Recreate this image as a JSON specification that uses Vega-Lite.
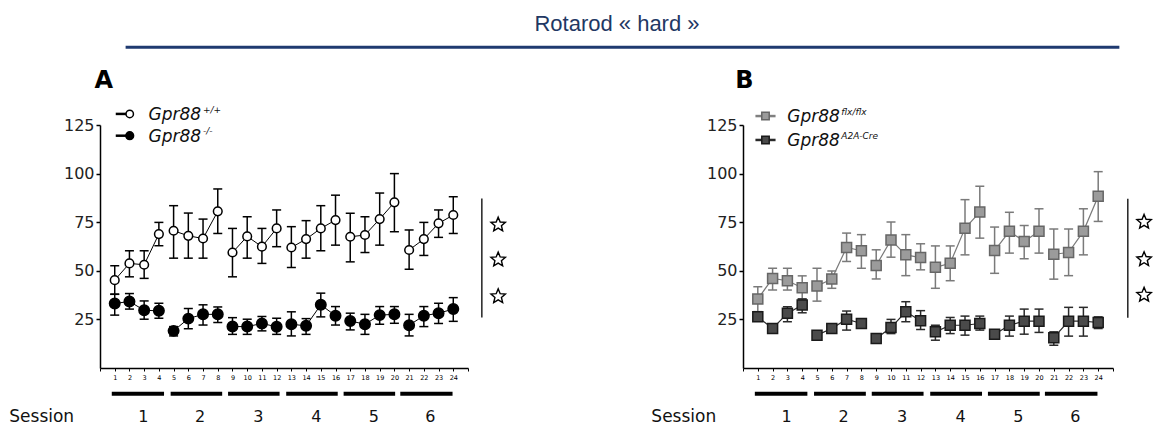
{
  "$schema": "https://vega.github.io/schema/vega-lite/v6.json",
  "padding": {"left": 9, "top": 13, "right": 2, "bottom": 2},
  "bounds": "flush",
  "spacing": 275,
  "resolve": {"scale": {"fill": "independent", "stroke": "independent", "size": "independent", "color": "independent"}},
  "config": {
    "view": {"stroke": null},
    "text": {"font": "DejaVu Sans"},
    "axis": {"labelFont": "DejaVu Sans", "grid": false}
  },
  "datasets": {
    "A": [
      {"group":"WT","trial":1,"session":1,"mean":45.2,"lo":38.0,"hi":52.6},
      {"group":"WT","trial":2,"session":1,"mean":53.8,"lo":46.9,"hi":60.3},
      {"group":"WT","trial":3,"session":1,"mean":53.1,"lo":46.1,"hi":60.3},
      {"group":"WT","trial":4,"session":1,"mean":68.9,"lo":62.9,"hi":74.9},
      {"group":"WT","trial":5,"session":2,"mean":70.6,"lo":56.5,"hi":83.5},
      {"group":"WT","trial":6,"session":2,"mean":68.0,"lo":56.5,"hi":79.7},
      {"group":"WT","trial":7,"session":2,"mean":66.6,"lo":56.5,"hi":76.6},
      {"group":"WT","trial":8,"session":2,"mean":80.6,"lo":69.2,"hi":92.1},
      {"group":"WT","trial":9,"session":3,"mean":59.4,"lo":46.9,"hi":71.8},
      {"group":"WT","trial":10,"session":3,"mean":67.7,"lo":56.5,"hi":77.8},
      {"group":"WT","trial":11,"session":3,"mean":62.4,"lo":53.8,"hi":71.8},
      {"group":"WT","trial":12,"session":3,"mean":71.8,"lo":62.4,"hi":81.3},
      {"group":"WT","trial":13,"session":4,"mean":62.0,"lo":51.7,"hi":72.7},
      {"group":"WT","trial":14,"session":4,"mean":66.3,"lo":56.5,"hi":75.8},
      {"group":"WT","trial":15,"session":4,"mean":71.8,"lo":60.3,"hi":83.5},
      {"group":"WT","trial":16,"session":4,"mean":76.1,"lo":63.2,"hi":88.9},
      {"group":"WT","trial":17,"session":5,"mean":67.5,"lo":54.6,"hi":79.6},
      {"group":"WT","trial":18,"session":5,"mean":68.4,"lo":59.4,"hi":77.8},
      {"group":"WT","trial":19,"session":5,"mean":76.6,"lo":63.2,"hi":90.0},
      {"group":"WT","trial":20,"session":5,"mean":85.2,"lo":70.1,"hi":100.0},
      {"group":"WT","trial":21,"session":6,"mean":60.7,"lo":50.8,"hi":71.0},
      {"group":"WT","trial":22,"session":6,"mean":66.3,"lo":57.9,"hi":74.9},
      {"group":"WT","trial":23,"session":6,"mean":74.4,"lo":67.2,"hi":81.3},
      {"group":"WT","trial":24,"session":6,"mean":78.7,"lo":69.2,"hi":88.1},
      {"group":"KO","trial":1,"session":1,"mean":33.2,"lo":27.2,"hi":37.9},
      {"group":"KO","trial":2,"session":1,"mean":34.2,"lo":30.3,"hi":38.3},
      {"group":"KO","trial":3,"session":1,"mean":29.7,"lo":25.1,"hi":34.5},
      {"group":"KO","trial":4,"session":1,"mean":29.4,"lo":25.6,"hi":33.3},
      {"group":"KO","trial":5,"session":2,"mean":19.1,"lo":16.5,"hi":21.3},
      {"group":"KO","trial":6,"session":2,"mean":25.4,"lo":20.2,"hi":30.6},
      {"group":"KO","trial":7,"session":2,"mean":27.6,"lo":22.1,"hi":32.5},
      {"group":"KO","trial":8,"session":2,"mean":27.6,"lo":23.4,"hi":31.4},
      {"group":"KO","trial":9,"session":3,"mean":21.3,"lo":17.3,"hi":25.9},
      {"group":"KO","trial":10,"session":3,"mean":21.3,"lo":17.3,"hi":25.1},
      {"group":"KO","trial":11,"session":3,"mean":22.9,"lo":19.1,"hi":26.5},
      {"group":"KO","trial":12,"session":3,"mean":21.2,"lo":17.3,"hi":25.6},
      {"group":"KO","trial":13,"session":4,"mean":22.5,"lo":16.5,"hi":28.9},
      {"group":"KO","trial":14,"session":4,"mean":21.7,"lo":17.3,"hi":25.4},
      {"group":"KO","trial":15,"session":4,"mean":32.5,"lo":26.3,"hi":38.5},
      {"group":"KO","trial":16,"session":4,"mean":26.9,"lo":22.1,"hi":31.6},
      {"group":"KO","trial":17,"session":5,"mean":24.2,"lo":19.6,"hi":28.2},
      {"group":"KO","trial":18,"session":5,"mean":22.5,"lo":17.3,"hi":27.6},
      {"group":"KO","trial":19,"session":5,"mean":27.2,"lo":22.5,"hi":31.6},
      {"group":"KO","trial":20,"session":5,"mean":27.6,"lo":23.0,"hi":31.6},
      {"group":"KO","trial":21,"session":6,"mean":22.0,"lo":16.5,"hi":27.6},
      {"group":"KO","trial":22,"session":6,"mean":26.9,"lo":21.3,"hi":31.6},
      {"group":"KO","trial":23,"session":6,"mean":28.2,"lo":22.9,"hi":33.3},
      {"group":"KO","trial":24,"session":6,"mean":30.3,"lo":24.0,"hi":36.2}
    ],
    "B": [
      {"group":"flox","trial":1,"session":1,"mean":35.5,"lo":29.0,"hi":41.8},
      {"group":"flox","trial":2,"session":1,"mean":46.1,"lo":40.1,"hi":51.3},
      {"group":"flox","trial":3,"session":1,"mean":44.9,"lo":40.1,"hi":51.3},
      {"group":"flox","trial":4,"session":1,"mean":41.3,"lo":35.5,"hi":47.4},
      {"group":"flox","trial":5,"session":2,"mean":42.2,"lo":34.4,"hi":51.3},
      {"group":"flox","trial":6,"session":2,"mean":45.8,"lo":41.0,"hi":49.9},
      {"group":"flox","trial":7,"session":2,"mean":62.0,"lo":54.8,"hi":69.4},
      {"group":"flox","trial":8,"session":2,"mean":60.3,"lo":51.3,"hi":68.6},
      {"group":"flox","trial":9,"session":3,"mean":52.7,"lo":45.8,"hi":60.8},
      {"group":"flox","trial":10,"session":3,"mean":65.9,"lo":57.0,"hi":75.1},
      {"group":"flox","trial":11,"session":3,"mean":58.2,"lo":47.5,"hi":68.6},
      {"group":"flox","trial":12,"session":3,"mean":56.8,"lo":50.5,"hi":63.9},
      {"group":"flox","trial":13,"session":4,"mean":51.8,"lo":41.0,"hi":62.8},
      {"group":"flox","trial":14,"session":4,"mean":53.9,"lo":44.9,"hi":62.8},
      {"group":"flox","trial":15,"session":4,"mean":71.9,"lo":58.2,"hi":86.6},
      {"group":"flox","trial":16,"session":4,"mean":80.2,"lo":66.8,"hi":93.5},
      {"group":"flox","trial":17,"session":5,"mean":60.4,"lo":48.7,"hi":72.5},
      {"group":"flox","trial":18,"session":5,"mean":70.3,"lo":59.1,"hi":80.1},
      {"group":"flox","trial":19,"session":5,"mean":65.1,"lo":56.2,"hi":73.3},
      {"group":"flox","trial":20,"session":5,"mean":70.3,"lo":59.1,"hi":81.9},
      {"group":"flox","trial":21,"session":6,"mean":58.5,"lo":45.7,"hi":71.5},
      {"group":"flox","trial":22,"session":6,"mean":59.4,"lo":47.5,"hi":71.5},
      {"group":"flox","trial":23,"session":6,"mean":70.3,"lo":58.2,"hi":81.9},
      {"group":"flox","trial":24,"session":6,"mean":88.4,"lo":75.4,"hi":101.0},
      {"group":"A2A","trial":1,"session":1,"mean":26.3,"lo":24.5,"hi":28.0},
      {"group":"A2A","trial":2,"session":1,"mean":20.3,"lo":19.0,"hi":21.6},
      {"group":"A2A","trial":3,"session":1,"mean":28.1,"lo":23.8,"hi":31.5},
      {"group":"A2A","trial":4,"session":1,"mean":32.4,"lo":28.4,"hi":35.5},
      {"group":"A2A","trial":5,"session":2,"mean":16.9,"lo":15.5,"hi":18.3},
      {"group":"A2A","trial":6,"session":2,"mean":20.3,"lo":18.5,"hi":22.3},
      {"group":"A2A","trial":7,"session":2,"mean":25.1,"lo":19.5,"hi":29.3},
      {"group":"A2A","trial":8,"session":2,"mean":22.9,"lo":21.0,"hi":25.0},
      {"group":"A2A","trial":9,"session":3,"mean":15.2,"lo":13.8,"hi":16.6},
      {"group":"A2A","trial":10,"session":3,"mean":20.8,"lo":17.7,"hi":25.0},
      {"group":"A2A","trial":11,"session":3,"mean":28.9,"lo":23.8,"hi":34.1},
      {"group":"A2A","trial":12,"session":3,"mean":24.3,"lo":19.8,"hi":29.5},
      {"group":"A2A","trial":13,"session":4,"mean":18.6,"lo":14.3,"hi":22.0},
      {"group":"A2A","trial":14,"session":4,"mean":22.0,"lo":17.7,"hi":26.0},
      {"group":"A2A","trial":15,"session":4,"mean":22.0,"lo":16.9,"hi":26.7},
      {"group":"A2A","trial":16,"session":4,"mean":22.9,"lo":19.5,"hi":26.7},
      {"group":"A2A","trial":17,"session":5,"mean":17.4,"lo":16.0,"hi":18.8},
      {"group":"A2A","trial":18,"session":5,"mean":22.0,"lo":16.4,"hi":26.7},
      {"group":"A2A","trial":19,"session":5,"mean":24.1,"lo":17.4,"hi":30.3},
      {"group":"A2A","trial":20,"session":5,"mean":24.1,"lo":18.3,"hi":30.3},
      {"group":"A2A","trial":21,"session":6,"mean":15.6,"lo":11.7,"hi":18.6},
      {"group":"A2A","trial":22,"session":6,"mean":24.1,"lo":16.4,"hi":31.2},
      {"group":"A2A","trial":23,"session":6,"mean":24.1,"lo":16.4,"hi":31.2},
      {"group":"A2A","trial":24,"session":6,"mean":23.4,"lo":20.3,"hi":26.3}
    ],
    "sessions": [
      {"session":"1","from":0.8,"to":4.35,"mid":2.95},
      {"session":"2","from":4.8,"to":8.3,"mid":6.8},
      {"session":"3","from":8.7,"to":12.2,"mid":10.75},
      {"session":"4","from":12.65,"to":16.15,"mid":14.7},
      {"session":"5","from":16.55,"to":20.05,"mid":18.6},
      {"session":"6","from":20.4,"to":23.95,"mid":22.45}
    ]
  },
  "hconcat": [
    {
      "width": 368,
      "height": 243,
      "layer": [
        {
          "data": {"name": "A"},
          "mark": {"type": "rule", "color": "#000", "strokeWidth": 1.5},
          "encoding": {
            "x": {"field": "trial", "type": "quantitative", "scale": {"domain": [0, 25], "nice": false, "zero": false}, "title": null,
              "axis": {"title": null, "values": [0,1,2,3,4,5,6,7,8,9,10,11,12,13,14,15,16,17,18,19,20,21,22,23,24,25], "tickCount": 40, "format": "d",
                "labelExpr": "datum.value >= 1 && datum.value <= 24 ? datum.label : ''",
                "labelFontSize": 6.5, "labelColor": "#000", "labelPadding": 3, "labelFlush": false, "labelOverlap": false,
                "tickSize": 3, "tickColor": "#000", "tickWidth": 1, "domainColor": "#000", "domainWidth": 1.5}},
            "y": {"field": "lo", "type": "quantitative", "scale": {"domain": [0, 125], "nice": false}, "title": null,
              "axis": {"title": null, "values": [25, 50, 75, 100, 125], "tickCount": 10, "format": "d", "labelFontSize": 16, "labelColor": "#222",
                "labelPadding": 2, "tickSize": 4, "tickColor": "#000", "tickWidth": 1.5, "domainColor": "#000", "domainWidth": 1.5}},
            "y2": {"field": "hi"}
          }
        },
        {
          "data": {"name": "A"},
          "mark": {"type": "tick", "orient": "horizontal", "size": 9, "thickness": 1.5, "color": "#000", "opacity": 1},
          "encoding": {
            "x": {"field": "trial", "type": "quantitative", "scale": {"domain": [0, 25], "nice": false, "zero": false}, "title": null},
            "y": {"field": "lo", "type": "quantitative", "scale": {"domain": [0, 125], "nice": false}, "title": null}
          }
        },
        {
          "data": {"name": "A"},
          "mark": {"type": "tick", "orient": "horizontal", "size": 9, "thickness": 1.5, "color": "#000", "opacity": 1},
          "encoding": {
            "x": {"field": "trial", "type": "quantitative", "scale": {"domain": [0, 25], "nice": false, "zero": false}, "title": null},
            "y": {"field": "hi", "type": "quantitative", "scale": {"domain": [0, 125], "nice": false}, "title": null}
          }
        },
        {
          "data": {"name": "A"},
          "mark": {"type": "line", "color": "#000", "strokeWidth": 1},
          "encoding": {
            "x": {"field": "trial", "type": "quantitative", "scale": {"domain": [0, 25], "nice": false, "zero": false}, "title": null},
            "y": {"field": "mean", "type": "quantitative", "scale": {"domain": [0, 125], "nice": false}, "title": null},
            "detail": [{"field": "group"}, {"field": "session"}]
          }
        },
        {
          "data": {"name": "A"},
          "mark": {"type": "point", "filled": true, "strokeWidth": 1.5, "opacity": 1, "shape": "circle"},
          "encoding": {
            "x": {"field": "trial", "type": "quantitative", "scale": {"domain": [0, 25], "nice": false, "zero": false}, "title": null},
            "y": {"field": "mean", "type": "quantitative", "scale": {"domain": [0, 125], "nice": false}, "title": null},
            "fill": {"field": "group", "type": "nominal", "scale": {"domain": ["WT", "KO"], "range": ["#ffffff", "#000000"]}, "legend": null},
            "stroke": {"field": "group", "type": "nominal", "scale": {"domain": ["WT", "KO"], "range": ["#000000", "#000000"]}, "legend": null},
            "size": {"field": "group", "type": "nominal", "scale": {"domain": ["WT", "KO"], "range": [75, 110]}, "legend": null}
          }
        },
        {
          "data": {"values": [{"comparison": "genotype"}]},
          "mark": {"type": "rule", "color": "#222", "strokeWidth": 1.5, "clip": false},
          "encoding": {
            "x": {"datum": 25.94, "type": "quantitative", "scale": {"domain": [0, 25], "nice": false, "zero": false}, "title": null},
            "y": {"datum": 87.2, "type": "quantitative", "scale": {"domain": [0, 125], "nice": false}, "title": null},
            "y2": {"datum": 26.0}
          }
        },
        {
          "data": {"values": [{"sig": "*"}]},
          "mark": {"type": "point", "shape": "M0,-1L0.265,-0.364L0.951,-0.309L0.428,0.139L0.588,0.809L0,0.45L-0.588,0.809L-0.428,0.139L-0.951,-0.309L-0.265,-0.364Z", "size": 230, "filled": true, "fill": "#fff", "stroke": "#000", "strokeWidth": 1.4, "opacity": 1, "clip": false},
          "encoding": {
            "x": {"datum": 27.05, "type": "quantitative", "scale": {"domain": [0, 25], "nice": false, "zero": false}, "title": null},
            "y": {"datum": 73.7, "type": "quantitative", "scale": {"domain": [0, 125], "nice": false}, "title": null}
          }
        },
        {
          "data": {"values": [{"sig": "*"}]},
          "mark": {"type": "point", "shape": "M0,-1L0.265,-0.364L0.951,-0.309L0.428,0.139L0.588,0.809L0,0.45L-0.588,0.809L-0.428,0.139L-0.951,-0.309L-0.265,-0.364Z", "size": 230, "filled": true, "fill": "#fff", "stroke": "#000", "strokeWidth": 1.4, "opacity": 1, "clip": false},
          "encoding": {
            "x": {"datum": 27.05, "type": "quantitative", "scale": {"domain": [0, 25], "nice": false, "zero": false}, "title": null},
            "y": {"datum": 55.7, "type": "quantitative", "scale": {"domain": [0, 125], "nice": false}, "title": null}
          }
        },
        {
          "data": {"values": [{"sig": "*"}]},
          "mark": {"type": "point", "shape": "M0,-1L0.265,-0.364L0.951,-0.309L0.428,0.139L0.588,0.809L0,0.45L-0.588,0.809L-0.428,0.139L-0.951,-0.309L-0.265,-0.364Z", "size": 230, "filled": true, "fill": "#fff", "stroke": "#000", "strokeWidth": 1.4, "opacity": 1, "clip": false},
          "encoding": {
            "x": {"datum": 27.05, "type": "quantitative", "scale": {"domain": [0, 25], "nice": false, "zero": false}, "title": null},
            "y": {"datum": 36.8, "type": "quantitative", "scale": {"domain": [0, 125], "nice": false}, "title": null}
          }
        },
        {
          "data": {"name": "sessions"},
          "mark": {"type": "rule", "color": "#000", "strokeWidth": 4, "clip": false},
          "encoding": {
            "x": {"field": "from", "type": "quantitative", "scale": {"domain": [0, 25], "nice": false, "zero": false}, "title": null},
            "x2": {"field": "to"},
            "y": {"datum": -13.2, "type": "quantitative", "scale": {"domain": [0, 125], "nice": false}, "title": null}
          }
        },
        {
          "data": {"name": "sessions"},
          "mark": {"type": "text", "fontSize": 16, "color": "#111", "baseline": "middle", "align": "center", "clip": false},
          "encoding": {
            "x": {"field": "mid", "type": "quantitative", "scale": {"domain": [0, 25], "nice": false, "zero": false}, "title": null},
            "y": {"datum": -25.1, "type": "quantitative", "scale": {"domain": [0, 125], "nice": false}, "title": null},
            "text": {"field": "session"}
          }
        },
        {
          "data": {"values": [{"t": "Session"}]},
          "mark": {"type": "text", "fontSize": 17, "color": "#111", "baseline": "middle", "align": "center", "clip": false},
          "encoding": {
            "x": {"datum": -3.96, "type": "quantitative", "scale": {"domain": [0, 25], "nice": false, "zero": false}, "title": null},
            "y": {"datum": -25.1, "type": "quantitative", "scale": {"domain": [0, 125], "nice": false}, "title": null},
            "text": {"field": "t"}
          }
        },
        {
          "data": {"values": [{"t": "A"}]},
          "mark": {"type": "text", "fontSize": 24, "fontWeight": "bold", "color": "#000", "baseline": "alphabetic", "align": "center", "clip": false},
          "encoding": {
            "x": {"datum": 0.25, "type": "quantitative", "scale": {"domain": [0, 25], "nice": false, "zero": false}, "title": null},
            "y": {"datum": 144.0, "type": "quantitative", "scale": {"domain": [0, 125], "nice": false}, "title": null},
            "text": {"field": "t"}
          }
        },
        {
          "data": {"values": [{"t": "Rotarod « hard »"}]},
          "mark": {"type": "text", "font": "Liberation Sans", "fontSize": 22, "color": "#1f3864", "baseline": "alphabetic", "align": "center", "clip": false},
          "encoding": {
            "x": {"datum": 35.12, "type": "quantitative", "scale": {"domain": [0, 25], "nice": false, "zero": false}, "title": null},
            "y": {"datum": 173.3, "type": "quantitative", "scale": {"domain": [0, 125], "nice": false}, "title": null},
            "text": {"field": "t"}
          }
        },
        {
          "data": {"values": [{"t": "header rule"}]},
          "mark": {"type": "rule", "color": "#1f3a70", "strokeWidth": 3, "clip": false},
          "encoding": {
            "x": {"datum": 1.74, "type": "quantitative", "scale": {"domain": [0, 25], "nice": false, "zero": false}, "title": null},
            "x2": {"datum": 69.25},
            "y": {"datum": 165.0, "type": "quantitative", "scale": {"domain": [0, 125], "nice": false}, "title": null}
          }
        },
        {
          "data": {"values": [{"t": "Gpr88 +/+"}]},
          "mark": {"type": "rule", "color": "#000", "strokeWidth": 2.5, "clip": false},
          "encoding": {
            "x": {"datum": 1.07, "type": "quantitative", "scale": {"domain": [0, 25], "nice": false, "zero": false}, "title": null},
            "x2": {"datum": 2.02},
            "y": {"datum": 130.7, "type": "quantitative", "scale": {"domain": [0, 125], "nice": false}, "title": null}
          }
        },
        {
          "data": {"values": [{"t": "Gpr88 -/-"}]},
          "mark": {"type": "rule", "color": "#000", "strokeWidth": 2.5, "clip": false},
          "encoding": {
            "x": {"datum": 1.07, "type": "quantitative", "scale": {"domain": [0, 25], "nice": false, "zero": false}, "title": null},
            "x2": {"datum": 2.02},
            "y": {"datum": 119.5, "type": "quantitative", "scale": {"domain": [0, 125], "nice": false}, "title": null}
          }
        },
        {
          "data": {"values": [{"t": "Gpr88 +/+"}]},
          "mark": {"type": "point", "shape": "circle", "filled": true, "fill": "#fff", "stroke": "#000", "strokeWidth": 1.5, "size": 55, "opacity": 1, "clip": false},
          "encoding": {
            "x": {"datum": 2.02, "type": "quantitative", "scale": {"domain": [0, 25], "nice": false, "zero": false}, "title": null},
            "y": {"datum": 130.7, "type": "quantitative", "scale": {"domain": [0, 125], "nice": false}, "title": null}
          }
        },
        {
          "data": {"values": [{"t": "Gpr88 -/-"}]},
          "mark": {"type": "point", "shape": "circle", "filled": true, "fill": "#000", "stroke": "#000", "strokeWidth": 1.5, "size": 60, "opacity": 1, "clip": false},
          "encoding": {
            "x": {"datum": 2.02, "type": "quantitative", "scale": {"domain": [0, 25], "nice": false, "zero": false}, "title": null},
            "y": {"datum": 119.5, "type": "quantitative", "scale": {"domain": [0, 125], "nice": false}, "title": null}
          }
        },
        {
          "data": {"values": [{"t": "Gpr88"}]},
          "mark": {"type": "text", "fontSize": 17, "fontStyle": "italic", "color": "#111", "baseline": "middle", "align": "left", "clip": false},
          "encoding": {
            "x": {"datum": 3.3, "type": "quantitative", "scale": {"domain": [0, 25], "nice": false, "zero": false}, "title": null},
            "y": {"datum": 130.2, "type": "quantitative", "scale": {"domain": [0, 125], "nice": false}, "title": null},
            "text": {"field": "t"}
          }
        },
        {
          "data": {"values": [{"t": "+/+"}]},
          "mark": {"type": "text", "fontSize": 9, "fontStyle": "italic", "color": "#111", "baseline": "middle", "align": "left", "clip": false},
          "encoding": {
            "x": {"datum": 7.0, "type": "quantitative", "scale": {"domain": [0, 25], "nice": false, "zero": false}, "title": null},
            "y": {"datum": 132.9, "type": "quantitative", "scale": {"domain": [0, 125], "nice": false}, "title": null},
            "text": {"field": "t"}
          }
        },
        {
          "data": {"values": [{"t": "Gpr88"}]},
          "mark": {"type": "text", "fontSize": 17, "fontStyle": "italic", "color": "#111", "baseline": "middle", "align": "left", "clip": false},
          "encoding": {
            "x": {"datum": 3.3, "type": "quantitative", "scale": {"domain": [0, 25], "nice": false, "zero": false}, "title": null},
            "y": {"datum": 119.0, "type": "quantitative", "scale": {"domain": [0, 125], "nice": false}, "title": null},
            "text": {"field": "t"}
          }
        },
        {
          "data": {"values": [{"t": "-/-"}]},
          "mark": {"type": "text", "fontSize": 9, "fontStyle": "italic", "color": "#111", "baseline": "middle", "align": "left", "clip": false},
          "encoding": {
            "x": {"datum": 7.0, "type": "quantitative", "scale": {"domain": [0, 25], "nice": false, "zero": false}, "title": null},
            "y": {"datum": 121.7, "type": "quantitative", "scale": {"domain": [0, 125], "nice": false}, "title": null},
            "text": {"field": "t"}
          }
        }
      ]
    },
    {
      "width": 370,
      "height": 243,
      "layer": [
        {
          "data": {"name": "B"},
          "mark": {"type": "rule", "strokeWidth": 1.5},
          "encoding": {
            "x": {"field": "trial", "type": "quantitative", "scale": {"domain": [0, 25], "nice": false, "zero": false}, "title": null,
              "axis": {"title": null, "values": [0,1,2,3,4,5,6,7,8,9,10,11,12,13,14,15,16,17,18,19,20,21,22,23,24,25], "tickCount": 40, "format": "d",
                "labelExpr": "datum.value >= 1 && datum.value <= 24 ? datum.label : ''",
                "labelFontSize": 6.5, "labelColor": "#000", "labelPadding": 3, "labelFlush": false, "labelOverlap": false,
                "tickSize": 3, "tickColor": "#000", "tickWidth": 1, "domainColor": "#000", "domainWidth": 1.5}},
            "y": {"field": "lo", "type": "quantitative", "scale": {"domain": [0, 125], "nice": false}, "title": null,
              "axis": {"title": null, "values": [25, 50, 75, 100, 125], "tickCount": 10, "format": "d", "labelFontSize": 16, "labelColor": "#222",
                "labelPadding": 2, "tickSize": 4, "tickColor": "#000", "tickWidth": 1.5, "domainColor": "#000", "domainWidth": 1.5}},
            "y2": {"field": "hi"},
            "color": {"field": "group", "type": "nominal", "scale": {"domain": ["flox", "A2A"], "range": ["#7a7a7a", "#2a2a2a"]}, "legend": null}
          }
        },
        {
          "data": {"name": "B"},
          "mark": {"type": "tick", "orient": "horizontal", "size": 9, "thickness": 1.5, "opacity": 1},
          "encoding": {
            "x": {"field": "trial", "type": "quantitative", "scale": {"domain": [0, 25], "nice": false, "zero": false}, "title": null},
            "y": {"field": "lo", "type": "quantitative", "scale": {"domain": [0, 125], "nice": false}, "title": null},
            "color": {"field": "group", "type": "nominal", "scale": {"domain": ["flox", "A2A"], "range": ["#7a7a7a", "#2a2a2a"]}, "legend": null}
          }
        },
        {
          "data": {"name": "B"},
          "mark": {"type": "tick", "orient": "horizontal", "size": 9, "thickness": 1.5, "opacity": 1},
          "encoding": {
            "x": {"field": "trial", "type": "quantitative", "scale": {"domain": [0, 25], "nice": false, "zero": false}, "title": null},
            "y": {"field": "hi", "type": "quantitative", "scale": {"domain": [0, 125], "nice": false}, "title": null},
            "color": {"field": "group", "type": "nominal", "scale": {"domain": ["flox", "A2A"], "range": ["#7a7a7a", "#2a2a2a"]}, "legend": null}
          }
        },
        {
          "data": {"name": "B"},
          "mark": {"type": "line", "strokeWidth": 1.2},
          "encoding": {
            "x": {"field": "trial", "type": "quantitative", "scale": {"domain": [0, 25], "nice": false, "zero": false}, "title": null},
            "y": {"field": "mean", "type": "quantitative", "scale": {"domain": [0, 125], "nice": false}, "title": null},
            "color": {"field": "group", "type": "nominal", "scale": {"domain": ["flox", "A2A"], "range": ["#7a7a7a", "#2a2a2a"]}, "legend": null},
            "detail": {"field": "session"}
          }
        },
        {
          "data": {"name": "B"},
          "mark": {"type": "point", "shape": "square", "filled": true, "strokeWidth": 1.5, "opacity": 1, "size": 100},
          "encoding": {
            "x": {"field": "trial", "type": "quantitative", "scale": {"domain": [0, 25], "nice": false, "zero": false}, "title": null},
            "y": {"field": "mean", "type": "quantitative", "scale": {"domain": [0, 125], "nice": false}, "title": null},
            "fill": {"field": "group", "type": "nominal", "scale": {"domain": ["flox", "A2A"], "range": ["#9b9b9b", "#4a4a4a"]}, "legend": null},
            "stroke": {"field": "group", "type": "nominal", "scale": {"domain": ["flox", "A2A"], "range": ["#666666", "#1a1a1a"]}, "legend": null}
          }
        },
        {
          "data": {"values": [{"comparison": "genotype"}]},
          "mark": {"type": "rule", "color": "#222", "strokeWidth": 1.5, "clip": false},
          "encoding": {
            "x": {"datum": 26.0, "type": "quantitative", "scale": {"domain": [0, 25], "nice": false, "zero": false}, "title": null},
            "y": {"datum": 87.0, "type": "quantitative", "scale": {"domain": [0, 125], "nice": false}, "title": null},
            "y2": {"datum": 25.8}
          }
        },
        {
          "data": {"values": [{"sig": "*"}]},
          "mark": {"type": "point", "shape": "M0,-1L0.265,-0.364L0.951,-0.309L0.428,0.139L0.588,0.809L0,0.45L-0.588,0.809L-0.428,0.139L-0.951,-0.309L-0.265,-0.364Z", "size": 230, "filled": true, "fill": "#fff", "stroke": "#000", "strokeWidth": 1.4, "opacity": 1, "clip": false},
          "encoding": {
            "x": {"datum": 27.1, "type": "quantitative", "scale": {"domain": [0, 25], "nice": false, "zero": false}, "title": null},
            "y": {"datum": 75.1, "type": "quantitative", "scale": {"domain": [0, 125], "nice": false}, "title": null}
          }
        },
        {
          "data": {"values": [{"sig": "*"}]},
          "mark": {"type": "point", "shape": "M0,-1L0.265,-0.364L0.951,-0.309L0.428,0.139L0.588,0.809L0,0.45L-0.588,0.809L-0.428,0.139L-0.951,-0.309L-0.265,-0.364Z", "size": 230, "filled": true, "fill": "#fff", "stroke": "#000", "strokeWidth": 1.4, "opacity": 1, "clip": false},
          "encoding": {
            "x": {"datum": 27.1, "type": "quantitative", "scale": {"domain": [0, 25], "nice": false, "zero": false}, "title": null},
            "y": {"datum": 55.9, "type": "quantitative", "scale": {"domain": [0, 125], "nice": false}, "title": null}
          }
        },
        {
          "data": {"values": [{"sig": "*"}]},
          "mark": {"type": "point", "shape": "M0,-1L0.265,-0.364L0.951,-0.309L0.428,0.139L0.588,0.809L0,0.45L-0.588,0.809L-0.428,0.139L-0.951,-0.309L-0.265,-0.364Z", "size": 230, "filled": true, "fill": "#fff", "stroke": "#000", "strokeWidth": 1.4, "opacity": 1, "clip": false},
          "encoding": {
            "x": {"datum": 27.1, "type": "quantitative", "scale": {"domain": [0, 25], "nice": false, "zero": false}, "title": null},
            "y": {"datum": 37.6, "type": "quantitative", "scale": {"domain": [0, 125], "nice": false}, "title": null}
          }
        },
        {
          "data": {"name": "sessions"},
          "mark": {"type": "rule", "color": "#000", "strokeWidth": 4, "clip": false},
          "encoding": {
            "x": {"field": "from", "type": "quantitative", "scale": {"domain": [0, 25], "nice": false, "zero": false}, "title": null},
            "x2": {"field": "to"},
            "y": {"datum": -13.2, "type": "quantitative", "scale": {"domain": [0, 125], "nice": false}, "title": null}
          }
        },
        {
          "data": {"name": "sessions"},
          "mark": {"type": "text", "fontSize": 16, "color": "#111", "baseline": "middle", "align": "center", "clip": false},
          "encoding": {
            "x": {"field": "mid", "type": "quantitative", "scale": {"domain": [0, 25], "nice": false, "zero": false}, "title": null},
            "y": {"datum": -25.1, "type": "quantitative", "scale": {"domain": [0, 125], "nice": false}, "title": null},
            "text": {"field": "session"}
          }
        },
        {
          "data": {"values": [{"t": "Session"}]},
          "mark": {"type": "text", "fontSize": 17, "color": "#111", "baseline": "middle", "align": "center", "clip": false},
          "encoding": {
            "x": {"datum": -4.0, "type": "quantitative", "scale": {"domain": [0, 25], "nice": false, "zero": false}, "title": null},
            "y": {"datum": -25.1, "type": "quantitative", "scale": {"domain": [0, 125], "nice": false}, "title": null},
            "text": {"field": "t"}
          }
        },
        {
          "data": {"values": [{"t": "B"}]},
          "mark": {"type": "text", "fontSize": 24, "fontWeight": "bold", "color": "#000", "baseline": "alphabetic", "align": "center", "clip": false},
          "encoding": {
            "x": {"datum": 0.1, "type": "quantitative", "scale": {"domain": [0, 25], "nice": false, "zero": false}, "title": null},
            "y": {"datum": 144.0, "type": "quantitative", "scale": {"domain": [0, 125], "nice": false}, "title": null},
            "text": {"field": "t"}
          }
        },
        {
          "data": {"values": [{"t": "Gpr88 flx/flx"}]},
          "mark": {"type": "rule", "color": "#808080", "strokeWidth": 2.5, "clip": false},
          "encoding": {
            "x": {"datum": 0.84, "type": "quantitative", "scale": {"domain": [0, 25], "nice": false, "zero": false}, "title": null},
            "x2": {"datum": 2.2},
            "y": {"datum": 129.6, "type": "quantitative", "scale": {"domain": [0, 125], "nice": false}, "title": null}
          }
        },
        {
          "data": {"values": [{"t": "Gpr88 A2A-Cre"}]},
          "mark": {"type": "rule", "color": "#2a2a2a", "strokeWidth": 2.5, "clip": false},
          "encoding": {
            "x": {"datum": 0.84, "type": "quantitative", "scale": {"domain": [0, 25], "nice": false, "zero": false}, "title": null},
            "x2": {"datum": 2.2},
            "y": {"datum": 117.3, "type": "quantitative", "scale": {"domain": [0, 125], "nice": false}, "title": null}
          }
        },
        {
          "data": {"values": [{"t": "Gpr88 flx/flx"}]},
          "mark": {"type": "point", "shape": "square", "filled": true, "fill": "#9b9b9b", "stroke": "#666", "strokeWidth": 1.5, "size": 55, "opacity": 1, "clip": false},
          "encoding": {
            "x": {"datum": 1.52, "type": "quantitative", "scale": {"domain": [0, 25], "nice": false, "zero": false}, "title": null},
            "y": {"datum": 129.6, "type": "quantitative", "scale": {"domain": [0, 125], "nice": false}, "title": null}
          }
        },
        {
          "data": {"values": [{"t": "Gpr88 A2A-Cre"}]},
          "mark": {"type": "point", "shape": "square", "filled": true, "fill": "#4a4a4a", "stroke": "#1a1a1a", "strokeWidth": 1.5, "size": 55, "opacity": 1, "clip": false},
          "encoding": {
            "x": {"datum": 1.52, "type": "quantitative", "scale": {"domain": [0, 25], "nice": false, "zero": false}, "title": null},
            "y": {"datum": 117.3, "type": "quantitative", "scale": {"domain": [0, 125], "nice": false}, "title": null}
          }
        },
        {
          "data": {"values": [{"t": "Gpr88"}]},
          "mark": {"type": "text", "fontSize": 17, "fontStyle": "italic", "color": "#111", "baseline": "middle", "align": "left", "clip": false},
          "encoding": {
            "x": {"datum": 2.99, "type": "quantitative", "scale": {"domain": [0, 25], "nice": false, "zero": false}, "title": null},
            "y": {"datum": 129.1, "type": "quantitative", "scale": {"domain": [0, 125], "nice": false}, "title": null},
            "text": {"field": "t"}
          }
        },
        {
          "data": {"values": [{"t": "flx/flx"}]},
          "mark": {"type": "text", "fontSize": 9, "fontStyle": "italic", "color": "#111", "baseline": "middle", "align": "left", "clip": false},
          "encoding": {
            "x": {"datum": 6.64, "type": "quantitative", "scale": {"domain": [0, 25], "nice": false, "zero": false}, "title": null},
            "y": {"datum": 131.8, "type": "quantitative", "scale": {"domain": [0, 125], "nice": false}, "title": null},
            "text": {"field": "t"}
          }
        },
        {
          "data": {"values": [{"t": "Gpr88"}]},
          "mark": {"type": "text", "fontSize": 17, "fontStyle": "italic", "color": "#111", "baseline": "middle", "align": "left", "clip": false},
          "encoding": {
            "x": {"datum": 2.99, "type": "quantitative", "scale": {"domain": [0, 25], "nice": false, "zero": false}, "title": null},
            "y": {"datum": 116.8, "type": "quantitative", "scale": {"domain": [0, 125], "nice": false}, "title": null},
            "text": {"field": "t"}
          }
        },
        {
          "data": {"values": [{"t": "A2A-Cre"}]},
          "mark": {"type": "text", "fontSize": 9, "fontStyle": "italic", "color": "#111", "baseline": "middle", "align": "left", "clip": false},
          "encoding": {
            "x": {"datum": 6.64, "type": "quantitative", "scale": {"domain": [0, 25], "nice": false, "zero": false}, "title": null},
            "y": {"datum": 119.5, "type": "quantitative", "scale": {"domain": [0, 125], "nice": false}, "title": null},
            "text": {"field": "t"}
          }
        }
      ]
    }
  ]
}
